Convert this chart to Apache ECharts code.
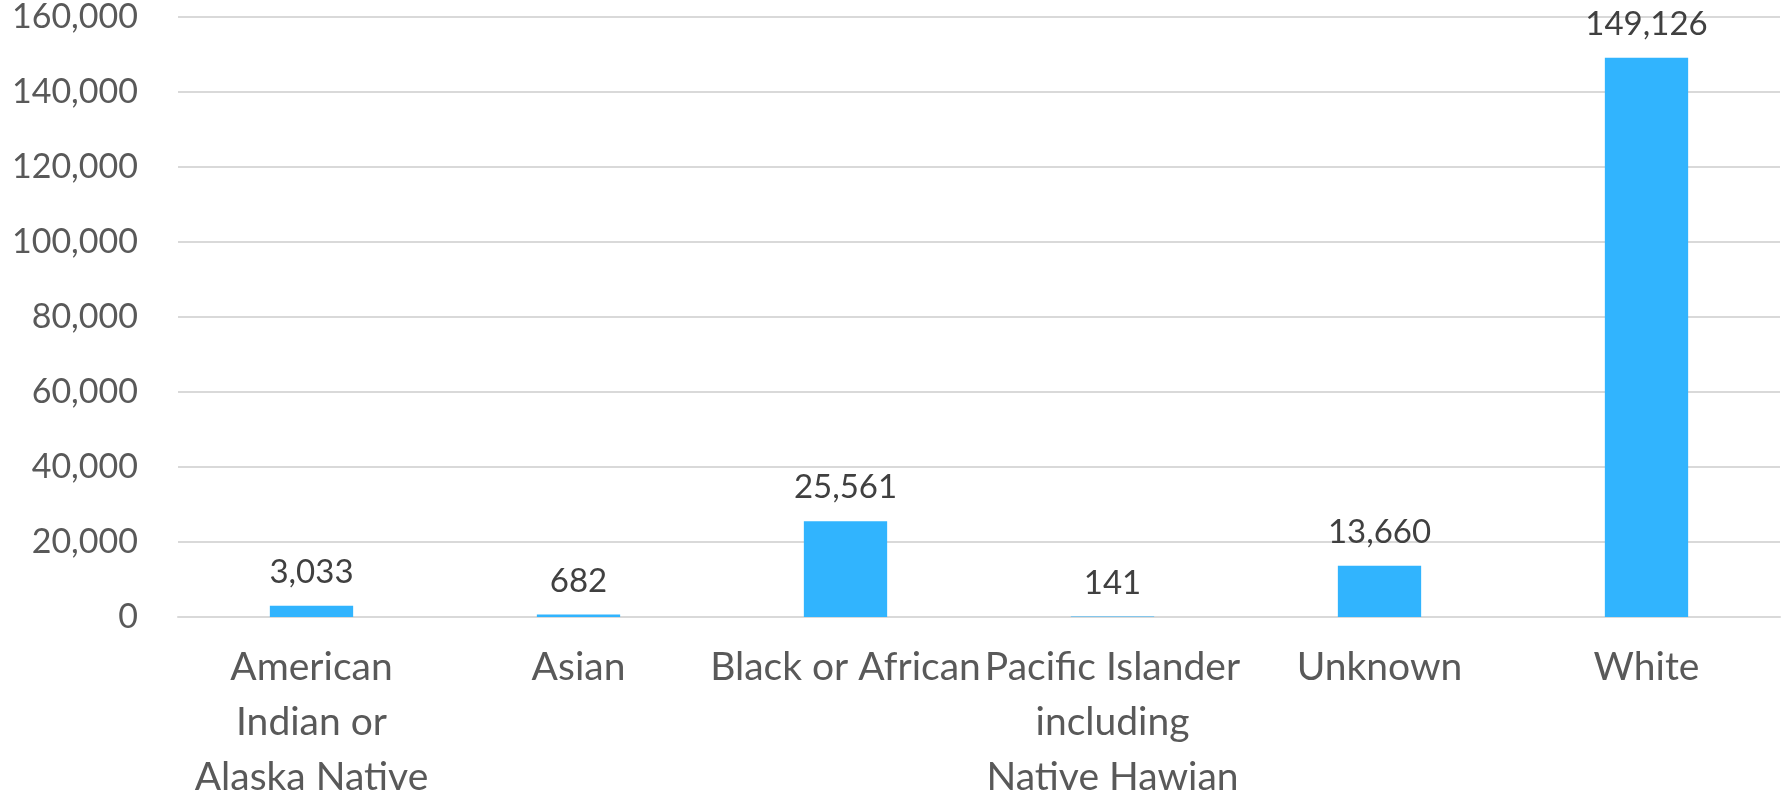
<!DOCTYPE html>
<html><head><meta charset="utf-8">
<script src="https://cdn.jsdelivr.net/npm/echarts@6/dist/echarts.min.js"></script>
<style>html,body{margin:0;padding:0;background:#fff}#c{width:1781px;height:805px}</style>
</head><body><div id="c"></div>
<script>
var categories = ["American\nIndian or\nAlaska Native", "Asian", "Black or African", "Pacific Islander\nincluding\nNative Hawian", "Unknown", "White"];
var values = [3033, 682, 25561, 141, 13660, 149126];
var yTicks = {min: 0, max: 160000, interval: 20000};

function fmt(v){ return String(v).replace(/\B(?=(\d{3})+(?!\d))/g, ","); }
var FONT = "Lato";
var chart = echarts.init(document.getElementById('c'), null, {renderer:'canvas'});
chart.setOption({
  animation: false,
  backgroundColor: '#ffffff',
  grid: {left: 178, right: 1, top: 17, bottom: 166, containLabel: false},
  xAxis: {
    type: 'category', data: categories,
    axisLine: {show: true, lineStyle: {color: '#d9d9d9', width: 2}},
    axisTick: {show: false},
    axisLabel: {color: '#595959', fontFamily: FONT, fontSize: 39, lineHeight: 55, margin: 23, interval: 0}
  },
  yAxis: {
    type: 'value', min: yTicks.min, max: yTicks.max, interval: yTicks.interval,
    axisLine: {show: false}, axisTick: {show: false},
    splitLine: {lineStyle: {color: '#d9d9d9', width: 2}},
    axisLabel: {color: '#595959', fontFamily: FONT, fontSize: 34, margin: 40, formatter: fmt}
  },
  series: [{
    type: 'bar', data: values, barWidth: '31.2%',
    itemStyle: {color: '#31b4fe'},
    label: {show: true, position: 'top', distance: 17, color: '#404040', fontFamily: FONT, fontSize: 33,
      formatter: function(p){ return fmt(p.value); }}
  }]
});
</script></body></html>
